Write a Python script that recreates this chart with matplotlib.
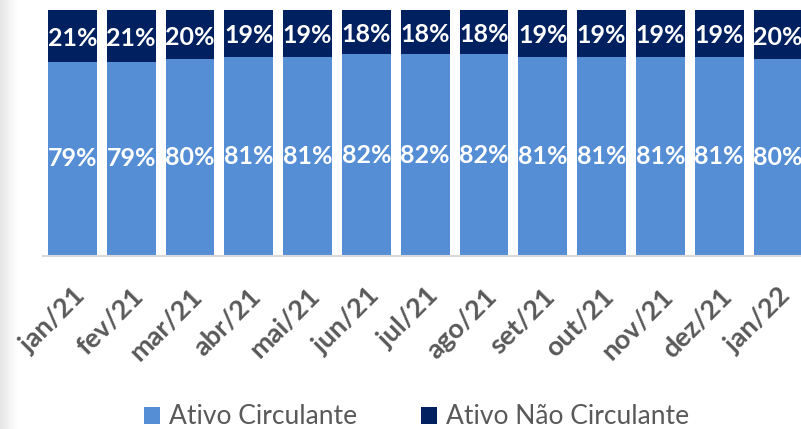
import numpy as np
import matplotlib
matplotlib.use('Agg')
import matplotlib.pyplot as plt

meses = ['jan/21', 'fev/21', 'mar/21', 'abr/21', 'mai/21', 'jun/21', 'jul/21',
         'ago/21', 'set/21', 'out/21', 'nov/21', 'dez/21', 'jan/22']
circulante = [79, 79, 80, 81, 81, 82, 82, 82, 81, 81, 81, 81, 80]
nao_circulante = [21, 21, 20, 19, 19, 18, 18, 18, 19, 19, 19, 19, 20]

cor_clara = '#558ED5'
cor_escura = '#002060'
cinza = '#595959'

plt.rcParams['font.family'] = ['Lato', 'DejaVu Sans']

fig = plt.figure(figsize=(8.01, 4.29), dpi=100)

# faixa cinza suave na borda esquerda
grad = fig.add_axes([0, 0, 18 / 801, 1])
grad.imshow(np.linspace(0.90, 1.0, 50).reshape(1, -1), cmap='gray', vmin=0, vmax=1,
            aspect='auto', extent=[0, 1, 0, 1])
grad.axis('off')

ax = fig.add_axes([43 / 801, (429 - 256) / 429, 764.4 / 801, 246 / 429])
x = np.arange(len(meses))
c = np.array(circulante) / 100
n = np.array(nao_circulante) / 100
b1 = ax.bar(x, c, width=0.83, color=cor_clara, label='Ativo Circulante')
b2 = ax.bar(x, n, width=0.83, bottom=c, color=cor_escura, label='Ativo Não Circulante')

for i in range(len(meses)):
    ax.text(x[i], c[i] / 2, '%d%%' % circulante[i], ha='center', va='center',
            color='white', fontsize=18, fontweight='bold')
    ax.text(x[i], c[i] + n[i] / 2 - 0.01, '%d%%' % nao_circulante[i], ha='center',
            va='center', color='white', fontsize=18, fontweight='bold')

ax.set_xlim(-0.5, 12.5)
ax.set_ylim(0, 1)
ax.set_yticks([])
ax.set_xticks(x)
ax.set_xticklabels(meses, rotation=45, ha='right', rotation_mode='anchor',
                   fontsize=19.5, fontweight='bold', color=cinza)
ax.tick_params(axis='x', length=0, pad=20)
for s in ['top', 'right', 'left']:
    ax.spines[s].set_visible(False)
ax.spines['bottom'].set_color('#D9D9D9')
ax.spines['bottom'].set_linewidth(1.5)

leg = fig.legend(handles=[b1, b2], loc='center', bbox_to_anchor=(0.52, 0.028),
                 ncol=2, frameon=False, fontsize=19, handlelength=0.62,
                 handleheight=0.62, handletextpad=0.35, columnspacing=2.4,
                 borderpad=0)
for t in leg.get_texts():
    t.set_color(cinza)

fig.savefig('out.png', dpi=100)
